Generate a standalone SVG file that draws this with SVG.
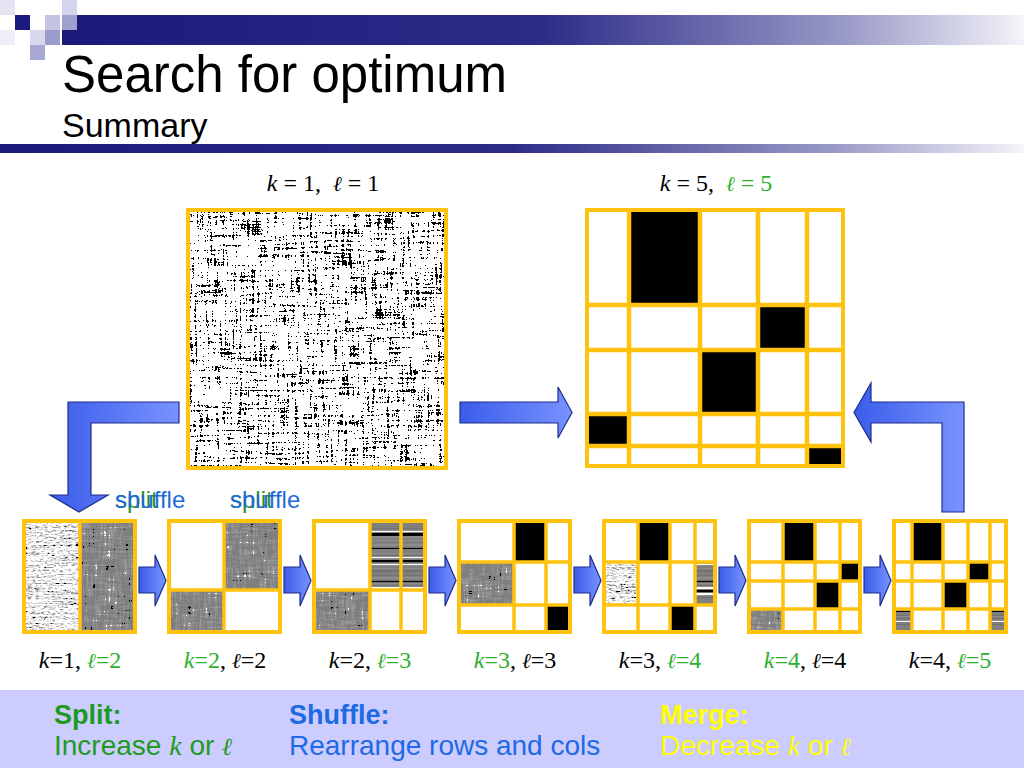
<svg xmlns="http://www.w3.org/2000/svg" width="1024" height="768" viewBox="0 0 1024 768">
<style>
.sans{font-family:"Liberation Sans",Arial,sans-serif}
.serif{font-family:"Liberation Serif","DejaVu Serif",serif}
.it{font-style:italic}
.ell{font-family:"DejaVu Serif","Liberation Serif",serif;font-style:italic;font-size:0.88em}
.g{fill:#2DB02D}
.frame{fill:none;stroke:#FFC20E;stroke-width:4}
.grid{stroke:#FFC20E;stroke-width:3.5}
.gridB{stroke:#FFC20E;stroke-width:4.5}
.blk{fill:#000}
.arrow{fill:url(#ag);stroke:#1E2C8C;stroke-width:1.2}
</style>
<defs>
<linearGradient id="hg" x1="0" y1="0" x2="1" y2="0">
<stop offset="0" stop-color="#1A1A7A"/>
<stop offset="0.5" stop-color="#2C2C88"/>
<stop offset="0.82" stop-color="#9C9CC8"/>
<stop offset="1" stop-color="#F4F4FA"/>
</linearGradient>
<linearGradient id="ag" x1="0" y1="0" x2="1" y2="0">
<stop offset="0" stop-color="#3A5CEA"/>
<stop offset="1" stop-color="#7893FF"/>
</linearGradient>
<filter id="fBig" x="0" y="0" width="1" height="1" color-interpolation-filters="sRGB">
<feTurbulence type="fractalNoise" baseFrequency="0.4 0.03" numOctaves="2" seed="7" result="a"/>
<feColorMatrix in="a" type="matrix" values="1 0 0 0 0 1 0 0 0 0 1 0 0 0 0 0 0 0 0 1" result="a1"/>
<feTurbulence type="fractalNoise" baseFrequency="0.03 0.4" numOctaves="2" seed="11" result="b"/>
<feColorMatrix in="b" type="matrix" values="1 0 0 0 0 1 0 0 0 0 1 0 0 0 0 0 0 0 0 1" result="b1"/>
<feTurbulence type="fractalNoise" baseFrequency="0.7" numOctaves="1" seed="3" result="c"/>
<feColorMatrix in="c" type="matrix" values="1 0 0 0 0 1 0 0 0 0 1 0 0 0 0 0 0 0 0 1" result="c1"/>
<feComposite in="a1" in2="b1" operator="arithmetic" k2="0.42" k3="0.42" k4="0.16" result="ab"/>
<feComposite in="ab" in2="c1" operator="arithmetic" k2="0.78" k3="0.22" result="abc"/>
<feComponentTransfer in="abc">
<feFuncR type="discrete" tableValues="0 0 0 0 0 1 1 1 1 1"/>
<feFuncG type="discrete" tableValues="0 0 0 0 0 1 1 1 1 1"/>
<feFuncB type="discrete" tableValues="0 0 0 0 0 1 1 1 1 1"/>
<feFuncA type="linear" slope="0" intercept="1"/>
</feComponentTransfer>
</filter>
<filter id="fLight" x="0" y="0" width="1" height="1" color-interpolation-filters="sRGB">
<feTurbulence type="fractalNoise" baseFrequency="0.25 0.7" numOctaves="2" seed="5" result="a"/>
<feColorMatrix in="a" type="matrix" values="1 0 0 0 0 1 0 0 0 0 1 0 0 0 0 0 0 0 0 1" result="a1"/>
<feTurbulence type="fractalNoise" baseFrequency="0.02 0.6" numOctaves="1" seed="9" result="b"/>
<feColorMatrix in="b" type="matrix" values="1 0 0 0 0 1 0 0 0 0 1 0 0 0 0 0 0 0 0 1" result="b1"/>
<feComposite in="a1" in2="b1" operator="arithmetic" k2="0.6" k3="0.4" result="ab"/>
<feComponentTransfer in="ab">
<feFuncR type="discrete" tableValues="0 0 0 0.6 0.85 1 1 1 1 1"/>
<feFuncG type="discrete" tableValues="0 0 0 0.6 0.85 1 1 1 1 1"/>
<feFuncB type="discrete" tableValues="0 0 0 0.6 0.85 1 1 1 1 1"/>
<feFuncA type="linear" slope="0" intercept="1"/>
</feComponentTransfer>
</filter>
<filter id="fGray" x="0" y="0" width="1" height="1" color-interpolation-filters="sRGB">
<feTurbulence type="fractalNoise" baseFrequency="0.45 0.05" numOctaves="2" seed="2" result="a"/>
<feColorMatrix in="a" type="matrix" values="1 0 0 0 0 1 0 0 0 0 1 0 0 0 0 0 0 0 0 1" result="a1"/>
<feTurbulence type="fractalNoise" baseFrequency="0.05 0.45" numOctaves="2" seed="13" result="b"/>
<feColorMatrix in="b" type="matrix" values="1 0 0 0 0 1 0 0 0 0 1 0 0 0 0 0 0 0 0 1" result="b1"/>
<feComposite in="a1" in2="b1" operator="arithmetic" k2="0.5" k3="0.5" result="ab"/>
<feComponentTransfer in="ab">
<feFuncR type="discrete" tableValues="0 0 0 0.5 0.5 0.55 0.6 1 1 1"/>
<feFuncG type="discrete" tableValues="0 0 0 0.5 0.5 0.55 0.6 1 1 1"/>
<feFuncB type="discrete" tableValues="0 0 0 0.5 0.5 0.55 0.6 1 1 1"/>
<feFuncA type="linear" slope="0" intercept="1"/>
</feComponentTransfer>
</filter>
<filter id="fStripe" x="0" y="0" width="1" height="1" color-interpolation-filters="sRGB">
<feTurbulence type="fractalNoise" baseFrequency="0 0.3" numOctaves="2" seed="4" result="a"/>
<feColorMatrix in="a" type="matrix" values="1 0 0 0 0 1 0 0 0 0 1 0 0 0 0 0 0 0 0 1" result="a1"/>
<feComponentTransfer in="a1">
<feFuncR type="discrete" tableValues="0 0 0 0.45 0.5 0.55 1 1 1"/>
<feFuncG type="discrete" tableValues="0 0 0 0.45 0.5 0.55 1 1 1"/>
<feFuncB type="discrete" tableValues="0 0 0 0.45 0.5 0.55 1 1 1"/>
<feFuncA type="linear" slope="0" intercept="1"/>
</feComponentTransfer>
</filter>
</defs>
<rect width="1024" height="768" fill="#fff"/>
<g id="header">
<rect x="62" y="15" width="962" height="30" fill="url(#hg)"/>
<rect x="0" y="144" width="1024" height="9" fill="url(#hg)"/>
<rect x="0" y="0" width="15" height="15" fill="#E4E4F2"/>
<rect x="0" y="30" width="15" height="15" fill="#EEEEF8"/>
<rect x="15" y="15" width="15" height="15" fill="#1C1C80"/>
<rect x="45" y="15" width="15" height="15" fill="#C4C4E4"/>
<rect x="62" y="0" width="15" height="15" fill="#D4D4EC"/>
<rect x="62" y="15" width="15" height="15" fill="#A0A0D0"/>
<rect x="30" y="30" width="15" height="15" fill="#D8D8EE"/>
<rect x="45" y="30" width="15" height="15" fill="#9C9CCC"/>
<rect x="30" y="45" width="15" height="15" fill="#A8A8D4"/>
<text class="sans" x="62" y="92" font-size="51" fill="#000">Search for optimum</text>
<text class="sans" x="62" y="137" font-size="34" fill="#000">Summary</text>
</g>
<g id="matrix-k1-l1">
<text class="serif" x="323" y="191" font-size="24" text-anchor="middle" xml:space="preserve"><tspan class="it">k</tspan> = 1,  <tspan class="ell">ℓ</tspan> = 1</text>
<rect x="188" y="210" width="258" height="258" filter="url(#fBig)"/>
<rect class="frame" x="188" y="210" width="258" height="258"/>
</g>
<g id="matrix-k5-l5">
<text class="serif" x="716" y="191" font-size="24" text-anchor="middle" xml:space="preserve"><tspan class="it">k</tspan> = 5,  <tspan class="g"><tspan class="ell">ℓ</tspan> = 5</tspan></text>
<rect x="587" y="210" width="256" height="256" fill="#fff"/>
<rect class="blk" x="629" y="210" width="71" height="95"/>
<rect class="blk" x="758" y="305" width="49" height="45"/>
<rect class="blk" x="700" y="350" width="58" height="64"/>
<rect class="blk" x="587" y="414" width="42" height="32"/>
<rect class="blk" x="807" y="446" width="36" height="20"/>
<path class="gridB" d="M629 210V466M700 210V466M758 210V466M807 210V466M587 305H843M587 350H843M587 414H843M587 446H843"/>
<rect class="frame" x="587" y="210" width="256" height="256" stroke-width="4.5"/>
</g>
<g id="m1">
<rect x="24" y="521" width="56" height="111" filter="url(#fLight)"/>
<rect x="80" y="521" width="55" height="111" filter="url(#fGray)"/>
<path class="grid" d="M80 521V632"/>
<rect class="frame" x="24" y="521" width="111" height="111"/>
<text class="serif" x="80" y="668" font-size="24" text-anchor="middle"><tspan class="it">k</tspan>=1, <tspan class="g"><tspan class="ell">ℓ</tspan>=2</tspan></text>
</g>
<g id="m2">
<rect x="169" y="521" width="111" height="111" fill="#fff"/>
<rect x="224" y="521" width="56" height="69" filter="url(#fGray)"/>
<rect x="169" y="590" width="55" height="42" filter="url(#fGray)"/>
<path class="grid" d="M224 521V632M169 590H280"/>
<rect class="frame" x="169" y="521" width="111" height="111"/>
<text class="serif" x="225" y="668" font-size="24" text-anchor="middle"><tspan class="g"><tspan class="it">k</tspan>=2</tspan>, <tspan class="ell">ℓ</tspan>=2</text>
</g>
<g id="m3">
<rect x="314" y="521" width="111" height="111" fill="#fff"/>
<rect x="370" y="521" width="31" height="69" filter="url(#fStripe)"/>
<rect x="401" y="521" width="24" height="69" filter="url(#fStripe)"/>
<rect x="314" y="590" width="56" height="42" filter="url(#fGray)"/>
<path class="grid" d="M370 521V632M401 521V632M314 590H425"/>
<rect class="frame" x="314" y="521" width="111" height="111"/>
<text class="serif" x="370" y="668" font-size="24" text-anchor="middle"><tspan class="it">k</tspan>=2, <tspan class="g"><tspan class="ell">ℓ</tspan>=3</tspan></text>
</g>
<g id="m4">
<rect x="459" y="521" width="111" height="111" fill="#fff"/>
<rect class="blk" x="514" y="521" width="32" height="41"/>
<rect x="459" y="562" width="55" height="43" filter="url(#fGray)"/>
<rect class="blk" x="546" y="605" width="24" height="27"/>
<path class="grid" d="M514 521V632M546 521V632M459 562H570M459 605H570"/>
<rect class="frame" x="459" y="521" width="111" height="111"/>
<text class="serif" x="515" y="668" font-size="24" text-anchor="middle"><tspan class="g"><tspan class="it">k</tspan>=3</tspan>, <tspan class="ell">ℓ</tspan>=3</text>
</g>
<g id="m5">
<rect x="604" y="521" width="111" height="111" fill="#fff"/>
<rect class="blk" x="638" y="521" width="32" height="41"/>
<rect x="604" y="562" width="34" height="43" filter="url(#fLight)"/>
<rect x="695" y="562" width="20" height="43" filter="url(#fStripe)"/>
<rect class="blk" x="670" y="605" width="25" height="27"/>
<path class="grid" d="M638 521V632M670 521V632M695 521V632M604 562H715M604 605H715"/>
<rect class="frame" x="604" y="521" width="111" height="111"/>
<text class="serif" x="660" y="668" font-size="24" text-anchor="middle"><tspan class="it">k</tspan>=3, <tspan class="g"><tspan class="ell">ℓ</tspan>=4</tspan></text>
</g>
<g id="m6">
<rect x="749" y="521" width="111" height="111" fill="#fff"/>
<rect class="blk" x="783" y="521" width="32" height="41"/>
<rect class="blk" x="840" y="562" width="20" height="19"/>
<rect class="blk" x="815" y="581" width="25" height="28"/>
<rect x="749" y="609" width="34" height="23" filter="url(#fGray)"/>
<path class="grid" d="M783 521V632M815 521V632M840 521V632M749 562H860M749 581H860M749 609H860"/>
<rect class="frame" x="749" y="521" width="111" height="111"/>
<text class="serif" x="805" y="668" font-size="24" text-anchor="middle"><tspan class="g"><tspan class="it">k</tspan>=4</tspan>, <tspan class="ell">ℓ</tspan>=4</text>
</g>
<g id="m7">
<rect x="894" y="521" width="112" height="111" fill="#fff"/>
<rect class="blk" x="912" y="521" width="31" height="41"/>
<rect class="blk" x="968" y="562" width="22" height="19"/>
<rect class="blk" x="943" y="581" width="25" height="28"/>
<rect x="894" y="609" width="18" height="23" filter="url(#fStripe)"/>
<rect x="990" y="609" width="16" height="23" filter="url(#fStripe)"/>
<path class="grid" d="M912 521V632M943 521V632M968 521V632M990 521V632M894 562H1006M894 581H1006M894 609H1006"/>
<rect class="frame" x="894" y="521" width="112" height="111"/>
<text class="serif" x="950" y="668" font-size="24" text-anchor="middle"><tspan class="it">k</tspan>=4, <tspan class="g"><tspan class="ell">ℓ</tspan>=5</tspan></text>
</g>
<g id="connectors">
<path class="arrow" d="M179 402H68V495H50L79 512L108 495H91V423H179Z"/>
<path class="arrow" d="M460 402H558V387L572 412.5L558 438V423H460Z"/>
<path class="arrow" d="M964 512V402H871V383L854 412.5L871 442V423H942V512Z"/>
<path class="arrow" d="M139 567H155V555L166 580.5L155 606V593H139Z"/>
<path class="arrow" d="M284 567H300V555L311 580.5L300 606V593H284Z"/>
<path class="arrow" d="M429 567H445V555L456 580.5L445 606V593H429Z"/>
<path class="arrow" d="M574 567H590V555L601 580.5L590 606V593H574Z"/>
<path class="arrow" d="M719 567H735V555L746 580.5L735 606V593H719Z"/>
<path class="arrow" d="M864 567H880V555L891 580.5L880 606V593H864Z"/>
<text class="sans" x="115" y="508" font-size="24" fill="#2A8F2A">split</text>
<text class="sans" x="115" y="508" font-size="24" fill="#1E6AD8">shuffle</text>
<text class="sans" x="230" y="508" font-size="24" fill="#2A8F2A">split</text>
<text class="sans" x="230" y="508" font-size="24" fill="#1E6AD8">shuffle</text>
</g>
<g id="legend">
<rect x="0" y="690" width="1024" height="78" fill="#CCCCFF"/>
<text class="sans" x="54" y="724" font-size="27" font-weight="bold" fill="#1E9A1E">Split:</text>
<text class="sans" x="54" y="755" font-size="28" fill="#1E9A1E">Increase <tspan class="serif it">k</tspan> or <tspan class="ell">ℓ</tspan></text>
<text class="sans" x="289" y="724" font-size="27" font-weight="bold" fill="#1E6AE6">Shuffle:</text>
<text class="sans" x="289" y="755" font-size="28" fill="#1E6AE6">Rearrange rows and cols</text>
<text class="sans" x="660" y="724" font-size="27" font-weight="bold" fill="#FFFF00">Merge:</text>
<text class="sans" x="660" y="755" font-size="28" fill="#FFFF00">Decrease <tspan class="serif it">k</tspan> or <tspan class="ell">ℓ</tspan></text>
</g>
</svg>
